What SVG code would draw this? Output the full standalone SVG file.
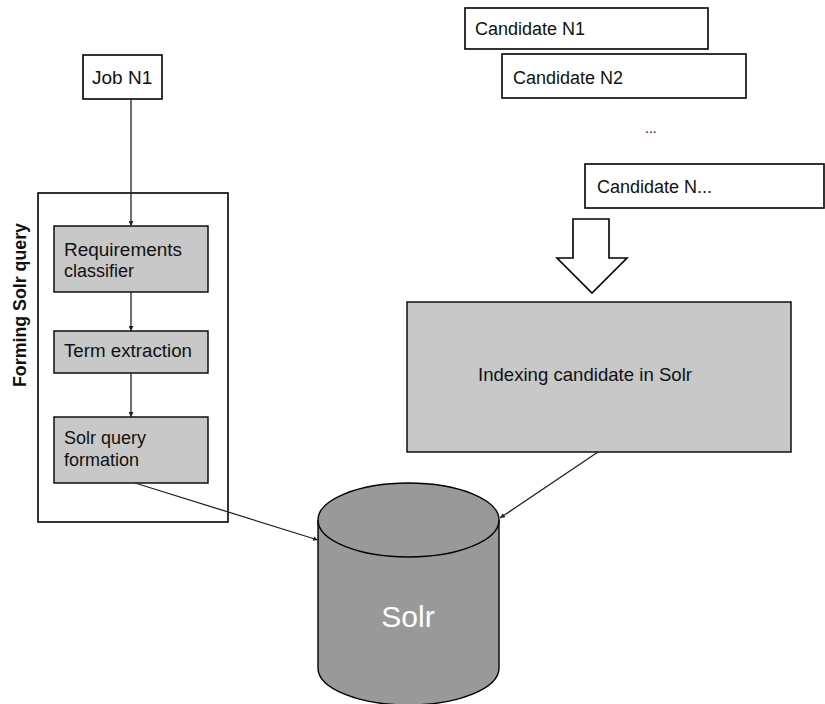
<svg xmlns="http://www.w3.org/2000/svg" width="825" height="704" viewBox="0 0 825 704">
<defs>
<style>
.box{fill:#ffffff;stroke:#000;stroke-width:1.6}
.gbox{fill:#c8c8c8;stroke:#000;stroke-width:1.4}
.t{font-family:"Liberation Sans",Arial,sans-serif;font-size:18px;fill:#111}
.conn{stroke:#222;stroke-width:1.3;fill:none}
</style>
<marker id="ah" viewBox="0 0 10 10" refX="10" refY="5" markerWidth="5" markerHeight="5" orient="auto" markerUnits="userSpaceOnUse">
<path d="M0,0 L10,5 L0,10 z" fill="#222"/>
</marker>
</defs>
<rect width="825" height="704" fill="#fff"/>

<g id="forming-group">
<rect x="38" y="193" width="190" height="329" fill="none" stroke="#000" stroke-width="1.6"/>
<text class="t" transform="translate(26,305) rotate(-90)" text-anchor="middle" font-weight="bold" style="font-size:19px" textLength="164" lengthAdjust="spacingAndGlyphs">Forming Solr query</text>
</g>

<g id="job-n1">
<rect class="box" x="83" y="55" width="79" height="44"/>
<text class="t" x="92" y="84" style="font-size:19px">Job N1</text>
</g>

<g id="req-classifier">
<rect class="gbox" x="54" y="226" width="154" height="66"/>
<text class="t" x="64" y="256" textLength="118" lengthAdjust="spacingAndGlyphs">Requirements</text>
<text class="t" x="64" y="277">classifier</text>
</g>

<g id="term-extraction">
<rect class="gbox" x="54" y="331" width="154" height="42"/>
<text class="t" x="64" y="357" textLength="128" lengthAdjust="spacingAndGlyphs">Term extraction</text>
</g>

<g id="solr-query-formation">
<rect class="gbox" x="54" y="417" width="154" height="66"/>
<text class="t" x="64" y="444">Solr query</text>
<text class="t" x="64" y="466">formation</text>
</g>

<g id="candidate-n1">
<rect class="box" x="465" y="8" width="243" height="41"/>
<text class="t" x="475" y="35">Candidate N1</text>
</g>

<g id="candidate-n2">
<rect class="box" x="502" y="54" width="244" height="44"/>
<text class="t" x="513" y="84">Candidate N2</text>
</g>

<g id="ellipsis">
<text class="t" x="645" y="133" style="font-size:14px">...</text>
</g>

<g id="candidate-nn">
<rect class="box" x="585" y="164" width="239" height="44"/>
<text class="t" x="597" y="193">Candidate N...</text>
</g>

<g id="block-arrow">
<path d="M573,219 L609,219 L609,258 L627,258 L592,293 L557,258 L573,258 Z" fill="#fff" stroke="#000" stroke-width="1.6" stroke-linejoin="miter"/>
</g>

<g id="indexing">
<rect class="gbox" x="407" y="302" width="384" height="150"/>
<text class="t" x="478" y="381" style="font-size:19px" textLength="214" lengthAdjust="spacingAndGlyphs">Indexing candidate in Solr</text>
</g>

<g id="solr">
<path d="M318,520 L318,668 A90.5,37 0 0 0 499,668 L499,520" fill="#999" stroke="#000" stroke-width="1.4"/>
<ellipse cx="408.5" cy="520" rx="90.5" ry="37" fill="#999" stroke="#000" stroke-width="1.4"/>
<text x="408" y="627" text-anchor="middle" font-family="'Liberation Sans',Arial,sans-serif" font-size="30" fill="#fff">Solr</text>
</g>

<g id="connectors">
<line class="conn" x1="131" y1="99" x2="131" y2="226" marker-end="url(#ah)"/>
<line class="conn" x1="131" y1="292" x2="131" y2="331" marker-end="url(#ah)"/>
<line class="conn" x1="131" y1="373" x2="131" y2="417" marker-end="url(#ah)"/>
<line class="conn" x1="135" y1="483" x2="318" y2="540" marker-end="url(#ah)"/>
<line class="conn" x1="598" y1="452" x2="500" y2="518" marker-end="url(#ah)"/>
</g>
</svg>
